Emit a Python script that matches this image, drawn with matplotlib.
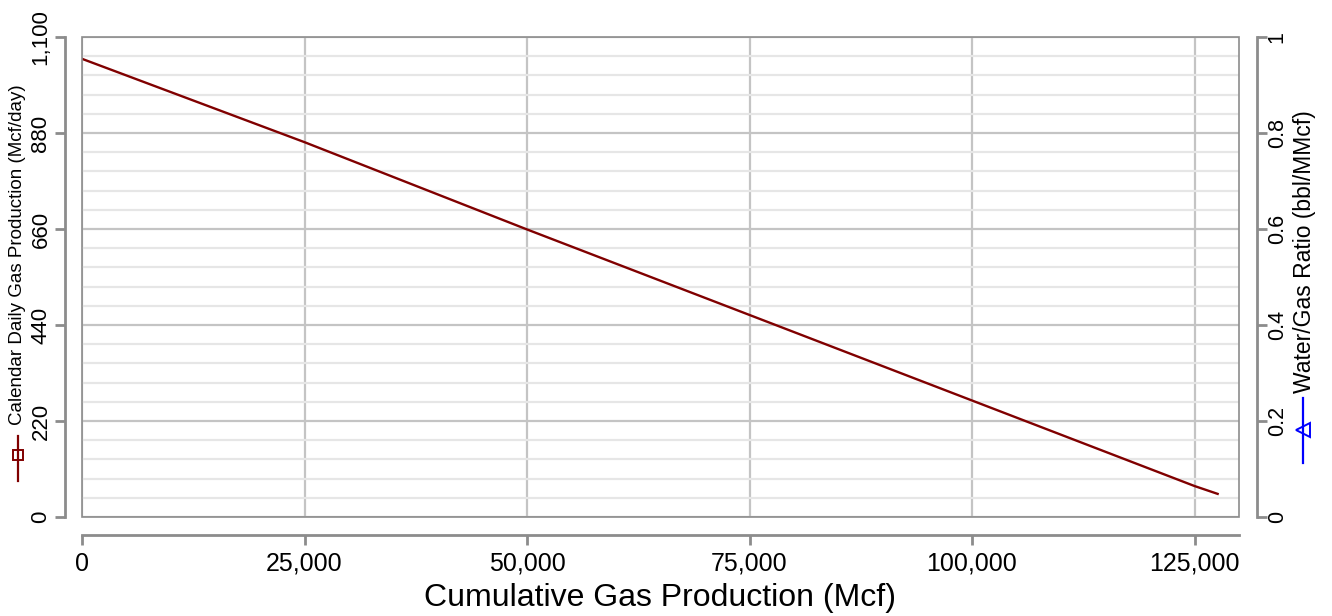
import matplotlib
matplotlib.use('Agg')
import matplotlib.pyplot as plt
from matplotlib.lines import Line2D
from matplotlib.patches import Rectangle
from matplotlib.ticker import FuncFormatter, MultipleLocator

plt.rcParams['font.family'] = ['Liberation Sans', 'DejaVu Sans']

# cumulative gas vs calendar daily gas rate
cum_gas = [0, 25000, 50000, 75000, 100000, 125000, 127600]
daily_gas = [1050, 859, 659, 463, 267, 71, 53]

x_ticks = [0, 25000, 50000, 75000, 100000, 125000]
y_ticks = [0, 220, 440, 660, 880, 1100]
y2_ticks = [0, 0.2, 0.4, 0.6, 0.8, 1]

spine_col = '#8c8c8c'
major_col = '#c4c4c4'
minor_col = '#e6e6e6'
gas_col = '#800000'
wgr_col = '#0000ff'

fig = plt.figure(figsize=(13.32, 6.16), dpi=100)
ax = fig.add_axes([82 / 1332, 1 - 517 / 616, (1239 - 82) / 1332, 480 / 616])

ax.set_xlim(0, 130000)
ax.set_ylim(0, 1100)
ax.set_xticks(x_ticks)
ax.set_yticks(y_ticks)
ax.yaxis.set_minor_locator(MultipleLocator(44))
ax.xaxis.set_major_formatter(FuncFormatter(lambda v, p: '{:,.0f}'.format(v)))
ax.yaxis.set_major_formatter(FuncFormatter(lambda v, p: '{:,.0f}'.format(v)))

ax.grid(True, which='major', axis='both', color=major_col, lw=1.6, zorder=1)
ax.grid(True, which='minor', axis='y', color=minor_col, lw=1.6, zorder=0)
ax.set_axisbelow(True)

ax.plot(cum_gas, daily_gas, color=gas_col, lw=1.7, zorder=3)

# plot frame
ax.add_patch(Rectangle((0, 0), 1, 1, transform=ax.transAxes, fill=False,
                       ec=spine_col, lw=1.2, zorder=4, clip_on=False))

for s in ['top', 'right']:
    ax.spines[s].set_visible(False)
ax.spines['left'].set_position(('outward', 12))
ax.spines['bottom'].set_position(('outward', 13))
for s in ['left', 'bottom']:
    ax.spines[s].set_color(spine_col)
    ax.spines[s].set_linewidth(2)

ax.tick_params(axis='both', which='major', color=spine_col, width=2, length=7, pad=4)
ax.tick_params(axis='y', which='minor', length=0)
ax.tick_params(axis='x', labelsize=18, pad=5)
ax.tick_params(axis='y', labelsize=16, pad=3)
for t in ax.get_yticklabels():
    t.set_rotation(90)
    t.set_va('center')

ax.set_xlabel('Cumulative Gas Production (Mcf)', fontsize=23, labelpad=5)

ax2 = ax.twinx()
ax2.set_ylim(0, 1)
ax2.set_yticks(y2_ticks)
ax2.set_yticklabels(['0', '0.2', '0.4', '0.6', '0.8', '1'])
for s in ['top', 'left', 'bottom']:
    ax2.spines[s].set_visible(False)
ax2.spines['right'].set_position(('outward', 13))
ax2.spines['right'].set_color(spine_col)
ax2.spines['right'].set_linewidth(2)
ax2.tick_params(axis='y', color=spine_col, width=2, length=7, labelsize=15.5, pad=0)
for t in ax2.get_yticklabels():
    t.set_rotation(90)
    t.set_va('center')

# axis titles with legend keys
fig.text(18 / 1332, 1 - 425 / 616, 'Calendar Daily Gas Production (Mcf/day)',
         rotation=90, ha='center', va='bottom', fontsize=13.5, color='#000000')
fig.add_artist(Line2D([18 / 1332, 18 / 1332], [1 - 481 / 616, 1 - 436 / 616],
                      color=gas_col, lw=1.6))
fig.add_artist(Line2D([18 / 1332], [1 - 455 / 616], color=gas_col, marker='s',
                      markersize=7, markerfacecolor='none', markeredgewidth=1.4, lw=0))

fig.text(1304 / 1332, 1 - 393 / 616, 'Water/Gas Ratio (bbl/MMcf)',
         rotation=90, ha='center', va='bottom', fontsize=16.5, color='#000000')
fig.add_artist(Line2D([1303 / 1332, 1303 / 1332], [1 - 463 / 616, 1 - 398 / 616],
                      color=wgr_col, lw=1.6))
fig.add_artist(Line2D([1303 / 1332], [1 - 430 / 616], color=wgr_col, marker='<',
                      markersize=10, markerfacecolor='none', markeredgewidth=1.4, lw=0))

fig.savefig('out.png', dpi=100)
